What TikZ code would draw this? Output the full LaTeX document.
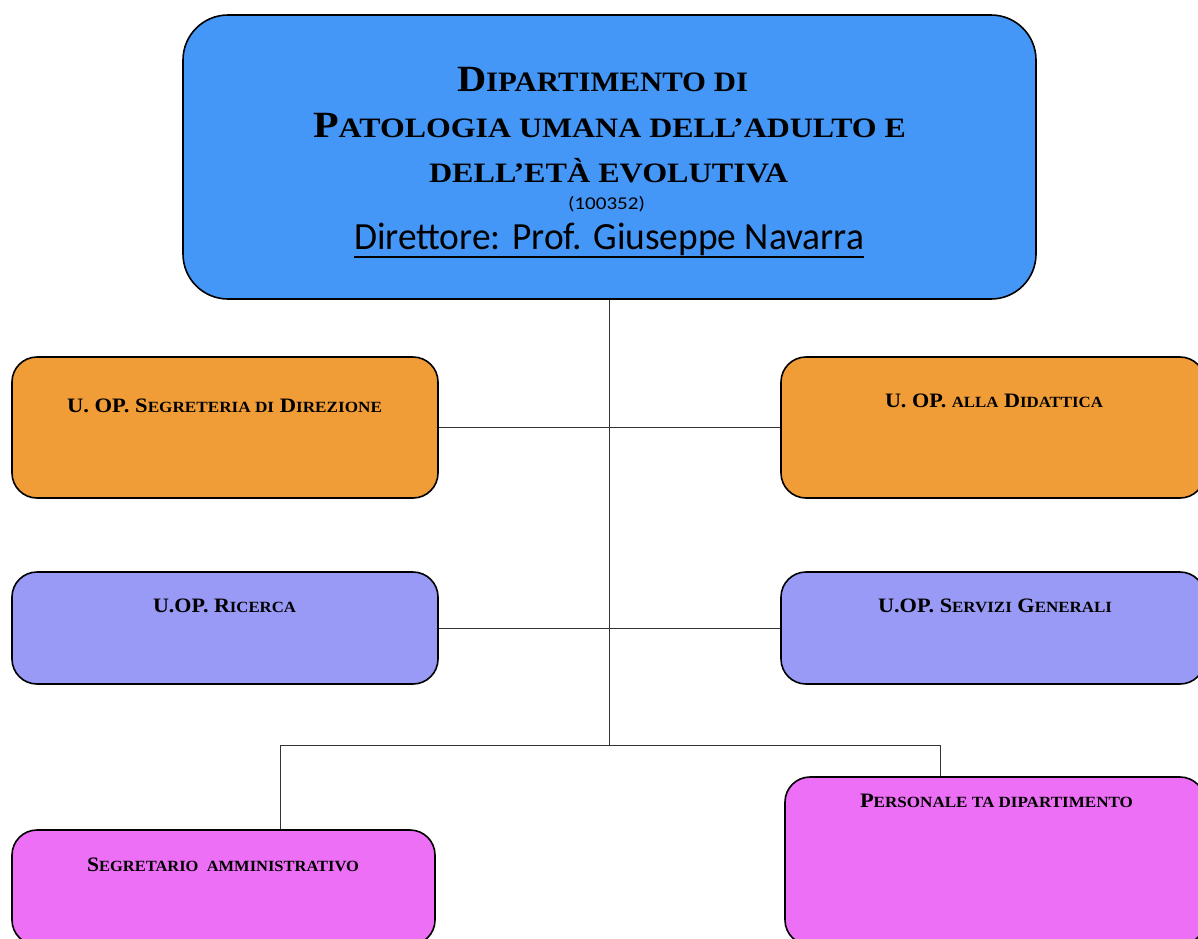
\documentclass[tikz,border=0pt]{standalone}
\usepackage{fontspec}
\usepackage{graphicx}
\setmainfont{Liberation Serif}
\newfontfamily\calib{Carlito}
\definecolor{topblue}{HTML}{4497F7}
\definecolor{orangebox}{HTML}{F09D38}
\definecolor{violetbox}{HTML}{9999F6}
\definecolor{pinkbox}{HTML}{EC6FF5}
\makeatletter
\newdimen\smdim
\newcommand\sm[1]{{\smdim=\f@size pt\smdim=0.76\smdim\fontsize{\strip@pt\smdim}{\strip@pt\smdim}\selectfont #1}}
\makeatother
\newsavebox\fitbox
\newcommand\fitw[2]{\sbox\fitbox{#2}\scalebox{\fpeval{(#1)/(\the\wd\fitbox)}}[1]{\usebox\fitbox}}
\tikzset{
  box/.style={draw=black, line width=1.6pt, rounded corners=25pt, inner sep=0pt},
  lbl/.style={inner sep=0pt, anchor=base, font=\bfseries\fontsize{20.5}{20.5}\selectfont},
  ttl/.style={inner sep=0pt, anchor=base, font=\bfseries\fontsize{37}{37}\selectfont},
  conn/.style={draw=black!80, line width=0.9pt}
}
\begin{document}
\begin{tikzpicture}[x=1pt,y=-1pt]
\useasboundingbox (0,0) rectangle (1198,938);
\clip (0,0) rectangle (1198,938);
% boxes
\node[box, rounded corners=45pt, fill=topblue, minimum width=853pt, minimum height=284pt] (top) at (609.5,157) {};
\node[box, fill=orangebox, minimum width=426pt, minimum height=141pt] (ol) at (225,427.5) {};
\node[box, fill=orangebox, minimum width=424pt, minimum height=141pt] (or) at (993,427.5) {};
\node[box, fill=violetbox, minimum width=426pt, minimum height=112pt] (vl) at (225,628) {};
\node[box, fill=violetbox, minimum width=424pt, minimum height=112pt] (vr) at (993,628) {};
\node[box, fill=pinkbox, minimum width=423pt, minimum height=115pt] (sa) at (223.5,887.5) {};
\node[box, fill=pinkbox, minimum width=420pt, minimum height=168pt] (pt) at (995,861) {};
% title
\node[ttl] (t1) at (602.5,91) {\fitw{291pt}{D\sm{IPARTIMENTO DI}}};
\node[ttl] (t2) at (609.5,137) {\fitw{593pt}{P\sm{ATOLOGIA UMANA DELL’ADULTO E}}};
\node[ttl] (t3) at (608.5,182) {\fitw{359pt}{\sm{DELL’ETÀ EVOLUTIVA}}};
\node[inner sep=0pt, anchor=base, font=\calib\fontsize{18}{18}\selectfont] (code) at (606.5,209.5) {\fitw{77pt}{(100352)}};
\node[inner sep=0pt, anchor=base, font=\calib\fontsize{38.5}{38.5}\selectfont] (dir) at (609,249.5) {\fitw{510pt}{Direttore: Prof. Giuseppe Navarra}};
\draw[line width=2.2pt] ([yshift=-7.5pt]dir.base west) -- ([yshift=-7.5pt]dir.base east);
% labels
\node[lbl] (tol) at (224.5,412) {\fitw{315pt}{U. OP. S\sm{EGRETERIA DI} D\sm{IREZIONE}}};
\node[lbl] (tor) at (994,407) {\fitw{218pt}{U. OP. \sm{ALLA} D\sm{IDATTICA}}};
\node[lbl] (tvl) at (224.5,612) {\fitw{143pt}{U.OP. R\sm{ICERCA}}};
\node[lbl] (tvr) at (995,612) {\fitw{234pt}{U.OP. S\sm{ERVIZI} G\sm{ENERALI}}};
\node[lbl] (tsa) at (223,871) {\fitw{272pt}{S\sm{EGRETARIO\ \ AMMINISTRATIVO}}};
\node[lbl] (tpt) at (996.5,807) {\fitw{273pt}{P\sm{ERSONALE TA DIPARTIMENTO}}};
% connectors
\coordinate (hub) at (609.5,745);
\coordinate (bl) at (280,745);
\coordinate (br) at (940,745);
\draw[conn] (top.south) -- (hub);
\draw[conn] (ol.east) -- (or.west);
\draw[conn] (vl.east) -- (vr.west);
\draw[conn] (bl) -- (br);
\draw[conn] (bl) -- (bl |- sa.north);
\draw[conn] (br) -- (br |- pt.north);
\end{tikzpicture}
\end{document}
